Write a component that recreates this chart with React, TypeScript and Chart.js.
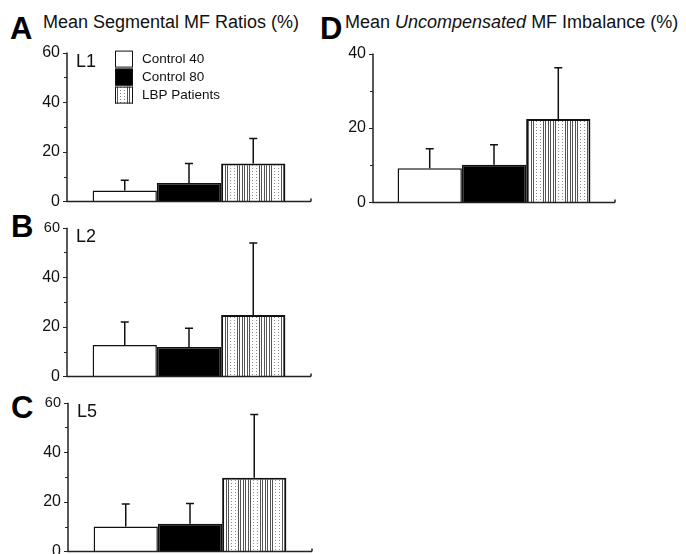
import React, { useEffect, useRef } from "react";
import { Chart, registerables } from "chart.js";
Chart.register(...registerables);

const FONT = "'Liberation Sans', Arial, Helvetica, sans-serif";

const seriesNames = ["Control 40", "Control 80", "LBP Patients"];

// Panel A – L1
const meansA = [4.4, 7.4, 15.3];
const errsA = [4.1, 7.9, 10.1];
// Panel B – L2
const meansB = [12.7, 11.9, 24.8];
const errsB = [9.3, 7.5, 29.0];
// Panel C – L5
const meansC = [10.0, 11.2, 29.7];
const errsC = [9.1, 8.1, 25.5];
// Panel D – uncompensated imbalance
const meansD = [9.2, 10.1, 22.4];
const errsD = [5.2, 5.4, 13.8];

const yMaxLeft = 60;
const yMaxRight = 40;

function makePattern(): CanvasPattern | string {
  const c = document.createElement("canvas");
  c.width = 22;
  c.height = 6;
  const g = c.getContext("2d");
  if (!g) return "#ccc";
  g.fillStyle = "#fff";
  g.fillRect(0, 0, 22, 6);
  g.fillStyle = "#555";
  [0, 2, 5, 7, 10, 12].forEach((x) => g.fillRect(x, 0, 1, 6));
  g.fillStyle = "#888";
  [15, 19].forEach((x) => {
    g.fillRect(x, 0, 1, 1);
    g.fillRect(x, 3, 1, 1);
  });
  return g.createPattern(c, "repeat") || "#ccc";
}

const decorPlugin = {
  id: "decor",
  afterDatasetsDraw(chart: any, _args: any, opts: any) {
    const ctx = chart.ctx as CanvasRenderingContext2D;
    const { left, right, top, bottom } = chart.chartArea;
    const ys = chart.scales.y;
    ctx.save();
    // error bars
    ctx.strokeStyle = "#111";
    ctx.lineWidth = 1.5;
    chart.data.datasets.forEach((ds: any, i: number) => {
      const el = chart.getDatasetMeta(i).data[0];
      const yTop = ys.getPixelForValue(ds.data[0] + opts.errors[i]);
      ctx.beginPath();
      ctx.moveTo(el.x, el.y);
      ctx.lineTo(el.x, yTop);
      ctx.moveTo(el.x - 4, yTop);
      ctx.lineTo(el.x + 4, yTop);
      ctx.stroke();
    });
    // axes
    ctx.strokeStyle = "#222";
    ctx.lineWidth = 1.5;
    ctx.beginPath();
    ctx.moveTo(left, top);
    ctx.lineTo(left, bottom);
    ctx.lineTo(right, bottom);
    ctx.moveTo(right, bottom);
    ctx.lineTo(right, bottom - 3);
    ctx.stroke();
    ctx.lineWidth = 1;
    for (let v = 0; v <= ys.max; v += 10) {
      const py = Math.round(ys.getPixelForValue(v)) + 0.5;
      const len = v % 20 === 0 ? 4 : 3;
      ctx.beginPath();
      ctx.moveTo(left - len, py);
      ctx.lineTo(left, py);
      ctx.stroke();
    }
    // level label
    if (opts.level) {
      ctx.fillStyle = "#111";
      ctx.font = `18px ${FONT}`;
      ctx.textBaseline = "alphabetic";
      ctx.textAlign = "left";
      ctx.fillText(opts.level, left + 9, top + 14);
    }
    // legend
    if (opts.legend) {
      const bx = left + 48;
      const by = top - 2;
      const h = 18;
      const fills = opts.fills;
      seriesNames.forEach((name, i) => {
        const y0 = by + i * h;
        ctx.fillStyle = fills[i];
        ctx.fillRect(bx, y0, 18, h - 1);
        ctx.strokeStyle = "#111";
        ctx.lineWidth = 1;
        ctx.strokeRect(bx + 0.5, y0 + 0.5, 17, h - 2);
        ctx.fillStyle = "#111";
        ctx.font = `13.5px ${FONT}`;
        ctx.textBaseline = "middle";
        ctx.textAlign = "left";
        ctx.fillText(name, bx + 27, y0 + h / 2);
      });
    }
    ctx.restore();
  },
};

type PanelProps = {
  left: number;
  top: number;
  width: number;
  height: number;
  means: number[];
  errs: number[];
  max: number;
  level: string;
  legend?: boolean;
  smallTop?: boolean;
  catPct: number;
};

function Panel(p: PanelProps) {
  const ref = useRef<HTMLCanvasElement>(null);
  useEffect(() => {
    if (!ref.current) return;
    const pattern = makePattern();
    const fills = ["#ffffff", "#000000", pattern];
    const chart = new Chart(ref.current, {
      type: "bar",
      data: {
        labels: [""],
        datasets: seriesNames.map((name, i) => ({
          label: name,
          data: [p.means[i]],
          backgroundColor: fills[i] as any,
          borderColor: "#111",
          borderWidth: i === 2 ? 2 : 1.5,
          categoryPercentage: p.catPct,
          barPercentage: 1.0,
        })),
      },
      options: {
        responsive: false,
        animation: false,
        layout: { padding: { top: 15, right: 6, bottom: 6, left: 0 } },
        plugins: {
          legend: { display: false },
          tooltip: { enabled: false },
          decor: { errors: p.errs, level: p.level, legend: !!p.legend, fills },
        } as any,
        scales: {
          x: { display: false },
          y: {
            min: 0,
            max: p.max,
            grid: { display: false, drawTicks: false },
            border: { display: false },
            ticks: {
              stepSize: 20,
              padding: 7,
              color: "#111",
              font: (c: any) => ({
                family: FONT,
                size: p.smallTop && c.tick && c.tick.value === p.max ? 14.5 : 16,
              }),
            },
            afterFit: (s: any) => {
              s.width = 50;
            },
          },
        },
      },
      plugins: [decorPlugin],
    });
    return () => chart.destroy();
  }, []);
  return (
    <canvas
      ref={ref}
      width={p.width}
      height={p.height}
      style={{ position: "absolute", left: p.left, top: p.top, width: p.width, height: p.height }}
    />
  );
}

const letterStyle = (left: number, baseline: number): React.CSSProperties => ({
  position: "absolute",
  left,
  top: baseline - 0.8465 * 31,
  fontFamily: FONT,
  fontWeight: "bold",
  fontSize: 31,
  lineHeight: "31px",
  color: "#000",
  whiteSpace: "nowrap",
});

const titleStyle = (left: number, baseline: number): React.CSSProperties => ({
  position: "absolute",
  left,
  top: baseline - 0.8465 * 18,
  fontFamily: FONT,
  fontSize: 18,
  lineHeight: "18px",
  color: "#111",
  whiteSpace: "nowrap",
});

export default function App() {
  return (
    <div
      style={{
        position: "fixed",
        left: 0,
        top: 0,
        width: 686,
        height: 554,
        background: "#fff",
        overflow: "hidden",
      }}
    >
      <div style={letterStyle(10, 39)}>A</div>
      <div style={titleStyle(43, 28)}>Mean Segmental MF Ratios (%)</div>
      <div style={letterStyle(11, 237)}>B</div>
      <div style={letterStyle(11, 418)}>C</div>
      <div style={letterStyle(320, 39)}>D</div>
      <div style={titleStyle(345, 28)}>
        Mean <i>Uncompensated</i> MF Imbalance (%)
      </div>
      <Panel left={17} top={36} width={300} height={182} means={meansA} errs={errsA} max={yMaxLeft} level="L1" legend catPct={0.79} />
      <Panel left={17} top={212} width={300} height={181} means={meansB} errs={errsB} max={yMaxLeft} level="L2" smallTop catPct={0.79} />
      <Panel left={18} top={387} width={300} height={181} means={meansC} errs={errsC} max={yMaxLeft} level="L5" smallTop catPct={0.79} />
      <Panel left={323} top={37} width={298} height={182} means={meansD} errs={errsD} max={yMaxRight} level="" catPct={0.797} />
    </div>
  );
}
